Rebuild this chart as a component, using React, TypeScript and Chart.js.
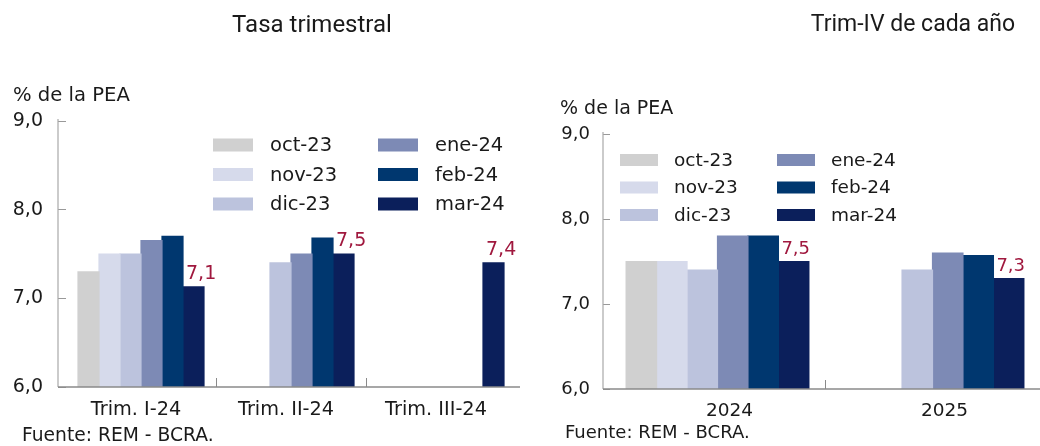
import React, { useEffect, useRef } from "react";
import { Chart, registerables } from "chart.js";

Chart.register(...registerables);

// ---------- DATA ----------
const seriesLabels = ["oct-23", "nov-23", "dic-23", "ene-24", "feb-24", "mar-24"];
const seriesColors = ["#d0d0d0", "#d6daeb", "#bcc3dd", "#7d8ab5", "#00376f", "#0b1f5b"];

const leftCategories = ["Trim. I-24", "Trim. II-24", "Trim. III-24"];
const leftOct = [7.3, null, null];
const leftNov = [7.5, null, null];
const leftDic = [7.5, 7.4, null];
const leftEne = [7.65, 7.5, null];
const leftFeb = [7.7, 7.68, null];
const leftMar = [7.13, 7.5, 7.4];

const rightCategories = ["2024", "2025"];
const rightOct = [7.5, null];
const rightNov = [7.5, null];
const rightDic = [7.4, 7.4];
const rightEne = [7.8, 7.6];
const rightFeb = [7.8, 7.57];
const rightMar = [7.5, 7.3];

const yTicks = [6, 7, 8, 9];
const yMin = 6;
const yMax = 9;

const leftTitle = "Tasa trimestral";
const rightTitle = "Trim-IV de cada año";
const yAxisTitle = "% de la PEA";
const sourceText = "Fuente: REM - BCRA.";

// ---------- HELPERS ----------
const FONT = "'DejaVu Sans', sans-serif";
const fmt = (v: number) => Number(v).toFixed(1).replace(".", ",");

const decoPlugin = {
  id: "deco",
  afterDatasetsDraw(chart: any, _args: any, opts: any) {
    const ctx = chart.ctx;
    const lastIdx = chart.data.datasets.length - 1;
    const meta = chart.getDatasetMeta(lastIdx);
    const data = chart.data.datasets[lastIdx].data;
    ctx.save();
    ctx.fillStyle = "#a0183e";
    ctx.font = `${opts.labelSize}px ${FONT}`;
    ctx.textAlign = "left";
    ctx.textBaseline = "alphabetic";
    meta.data.forEach((el: any, i: number) => {
      const v = data[i];
      if (v === null || v === undefined) return;
      const left = el.x - el.width / 2;
      ctx.fillText(fmt(v), left + 3, el.y - 8);
    });
    ctx.restore();
  },
  afterDraw(chart: any, _args: any, opts: any) {
    const ctx = chart.ctx;
    const area = chart.chartArea;
    const xs = chart.scales.x;
    ctx.save();
    const ax = area.left - opts.gap;
    ctx.strokeStyle = "#a8a8a8";
    ctx.lineWidth = 1.2;
    ctx.beginPath();
    ctx.moveTo(ax, area.top - 2);
    ctx.lineTo(ax, area.bottom);
    ctx.stroke();
    ctx.strokeStyle = "#8a8a8a";
    ctx.lineWidth = 1.5;
    ctx.beginPath();
    ctx.moveTo(ax, area.bottom);
    ctx.lineTo(chart.width, area.bottom);
    ctx.stroke();
    ctx.lineWidth = 1;
    const n = chart.data.labels.length;
    for (let i = 1; i < n; i++) {
      const bx = Math.round((xs.getPixelForValue(i - 1) + xs.getPixelForValue(i)) / 2) + 0.5;
      ctx.beginPath();
      ctx.moveTo(bx, area.bottom);
      ctx.lineTo(bx, area.bottom - 9);
      ctx.stroke();
    }
    const ds = chart.data.datasets;
    ctx.font = `${opts.legendSize}px ${FONT}`;
    ctx.textAlign = "left";
    ctx.textBaseline = "middle";
    ds.forEach((d: any, i: number) => {
      const col = Math.floor(i / 3);
      const row = i % 3;
      const bx = opts.legendX[col];
      const cy = opts.legendY[row];
      ctx.fillStyle = d.backgroundColor;
      ctx.fillRect(bx, cy - opts.boxH / 2, opts.boxW, opts.boxH);
      ctx.fillStyle = "#1a1a1a";
      ctx.fillText(d.label, bx + opts.textOffset, cy + 1);
    });
    ctx.restore();
  },
};

function buildConfig(p: any) {
  return {
    type: "bar",
    data: {
      labels: p.categories,
      datasets: p.series.map((vals: any, i: number) => ({
        label: seriesLabels[i],
        data: vals,
        backgroundColor: seriesColors[i],
        borderWidth: 0,
        inflateAmount: 0.6,
        categoryPercentage: p.catPct,
        barPercentage: 1,
      })),
    },
    options: {
      responsive: false,
      animation: false,
      devicePixelRatio: 1,
      events: [],
      layout: { padding: p.padding },
      plugins: {
        legend: { display: false },
        tooltip: { enabled: false },
        title: { display: false },
        deco: p.deco,
      },
      scales: {
        x: {
          grid: { display: false, drawTicks: false },
          border: { display: false },
          ticks: {
            font: { family: FONT, size: p.xFont },
            color: "#1a1a1a",
            padding: 11,
            labelOffset: p.xLabelOffset,
            maxRotation: 0,
            autoSkip: false,
          },
          afterFit: (s: any) => {
            s.height = 40;
          },
        },
        y: {
          min: yMin,
          max: yMax,
          afterBuildTicks: (s: any) => {
            s.ticks = yTicks.map((v) => ({ value: v }));
          },
          ticks: {
            callback: (v: any) => fmt(v),
            font: { family: FONT, size: p.yFont },
            color: "#1a1a1a",
            padding: p.tickPad,
          },
          grid: {
            drawOnChartArea: false,
            tickLength: p.tickLen,
            color: "#999999",
            lineWidth: 1,
          },
          border: { display: false },
          afterFit: (s: any) => {
            s.width = p.yWidth;
          },
        },
      },
    },
    plugins: [decoPlugin],
  };
}

function Panel({ p, left }: any) {
  const ref = useRef<HTMLCanvasElement | null>(null);
  useEffect(() => {
    const chart = new Chart(ref.current as any, buildConfig(p) as any);
    return () => chart.destroy();
  }, []);
  return (
    <canvas
      ref={ref}
      width={520}
      height={446}
      style={{ position: "absolute", left, top: 0, width: 520, height: 446 }}
    />
  );
}

const leftPanel = {
  categories: leftCategories,
  series: [leftOct, leftNov, leftDic, leftEne, leftFeb, leftMar],
  catPct: 0.84,
  padding: { top: 121, bottom: 19, left: 0, right: 4 },
  yWidth: 66,
  tickLen: 8,
  tickPad: 15,
  xFont: 19.3,
  yFont: 19,
  xLabelOffset: -5,
  deco: {
    gap: 8,
    labelSize: 19,
    legendSize: 19.5,
    legendX: [213, 378],
    legendY: [145, 174.5, 204],
    boxW: 40,
    boxH: 13,
    textOffset: 57,
  },
};

const rightPanel = {
  categories: rightCategories,
  series: [rightOct, rightNov, rightDic, rightEne, rightFeb, rightMar],
  catPct: 0.85,
  padding: { top: 134, bottom: 17, left: 0, right: 0 },
  yWidth: 90,
  tickLen: 7,
  tickPad: 13,
  xFont: 18.5,
  yFont: 18,
  xLabelOffset: 12,
  deco: {
    gap: 7,
    labelSize: 18,
    legendSize: 18.5,
    legendX: [100, 257],
    legendY: [160, 187.5, 215],
    boxW: 38,
    boxH: 12,
    textOffset: 54,
  },
};

const textStyle = (size: number, family: string): React.CSSProperties => ({
  position: "absolute",
  fontFamily: family,
  fontSize: size,
  lineHeight: `${size}px`,
  whiteSpace: "nowrap",
  color: "#1a1a1a",
});

export default function App() {
  return (
    <div
      style={{
        position: "absolute",
        left: 0,
        top: 0,
        width: 1040,
        height: 446,
        background: "#ffffff",
        overflow: "hidden",
      }}
    >
      <Panel p={leftPanel} left={0} />
      <Panel p={rightPanel} left={520} />
      <div style={{ ...textStyle(24, "Roboto, sans-serif"), left: 162, width: 300, textAlign: "center", top: 12 }}>
        {leftTitle}
      </div>
      <div style={{ ...textStyle(23, "Roboto, sans-serif"), left: 763, width: 300, textAlign: "center", top: 12 }}>
        {rightTitle}
      </div>
      <div style={{ ...textStyle(19.6, FONT), left: 13, top: 85 }}>{yAxisTitle}</div>
      <div style={{ ...textStyle(19, FONT), left: 560, top: 98 }}>{yAxisTitle}</div>
      <div style={{ ...textStyle(18.7, FONT), left: 22, top: 426 }}>{sourceText}</div>
      <div style={{ ...textStyle(18, FONT), left: 565, top: 423 }}>{sourceText}</div>
    </div>
  );
}
